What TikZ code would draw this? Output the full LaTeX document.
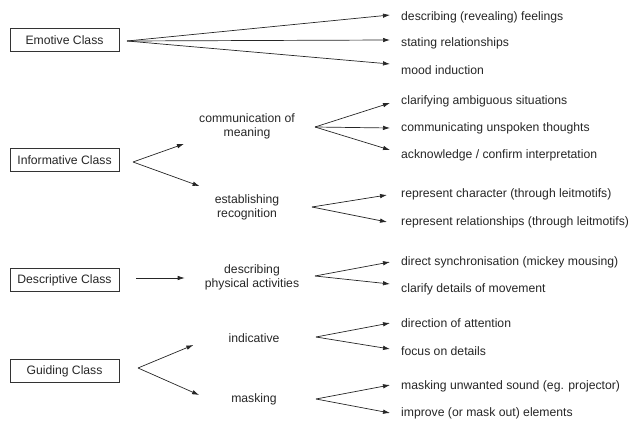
\documentclass[tikz,border=0pt]{standalone}
\usepackage{fontspec}
\setmainfont{Liberation Sans}
\usetikzlibrary{arrows.meta}
\begin{document}
\begin{tikzpicture}[x=1pt,y=-1pt,
  every node/.style={font=\fontsize{12.2}{14}\selectfont, text=black!85},
  classbox/.style={draw=black!80, line width=0.8pt, minimum width=109pt, minimum height=23pt, inner sep=0pt},
  midtext/.style={align=center, inner sep=0pt},
  righttext/.style={anchor=west, inner sep=0pt},
  arr/.style={draw=black!85, line width=0.7pt, -{Latex[length=7pt,width=4.5pt]}}]
\useasboundingbox (0,0) rectangle (631,427);
% class boxes
\node[classbox] (emo) at (64.5,40) {Emotive Class};
\node[classbox] (inf) at (64.5,160) {Informative Class};
\node[classbox] (des) at (64.5,280) {Descriptive Class};
\node[classbox] (gui) at (64.5,371) {Guiding Class};
% middle texts
\node[midtext] (com) at (247,126) {communication of\\meaning};
\node[midtext] (est) at (247,207) {establishing\\recognition};
\node[midtext] (phy) at (252,277) {describing\\physical activities};
\node[midtext] (ind) at (254,338) {indicative};
\node[midtext] (msk) at (254,399) {masking};
% right texts
\node[righttext] (r1) at (401,17) {describing (revealing) feelings};
\node[righttext] (r2) at (401,43) {stating relationships};
\node[righttext] (r3) at (401,70) {mood induction};
\node[righttext] (r4) at (401,101) {clarifying ambiguous situations};
\node[righttext] (r5) at (401,128) {communicating unspoken thoughts};
\node[righttext] (r6) at (401,155) {acknowledge / confirm interpretation};
\node[righttext] (r7) at (401,194) {represent character (through leitmotifs)};
\node[righttext] (r8) at (401,222) {represent relationships (through leitmotifs)};
\node[righttext] (r9) at (401,262) {direct synchronisation (mickey mousing)};
\node[righttext] (r10) at (401,289) {clarify details of movement};
\node[righttext] (r11) at (401,323) {direction of attention};
\node[righttext] (r12) at (401,351) {focus on details};
\node[righttext] (r13) at (401,386) {masking unwanted sound (eg. projector)};
\node[righttext] (r14) at (401,413) {improve (or mask out) elements};
% branch points
\coordinate (e0) at (127,41);
\coordinate (i0) at (133,162);
\coordinate (d0) at (136,278);
\coordinate (g0) at (138,368);
\coordinate (c0) at (315,127);
\coordinate (s0) at (312,207);
\coordinate (p0) at (315,276);
\coordinate (n0) at (316,337);
\coordinate (m0) at (316,399);
% emotive
\draw[arr] (e0) -- ([xshift=-11pt,yshift=2pt]r1.west);
\draw[arr] (e0) -- ([xshift=-11pt,yshift=3pt]r2.west);
\draw[arr] (e0) -- ([xshift=-11pt,yshift=6pt]r3.west);
% informative
\draw[arr] (i0) -- ([xshift=-15pt,yshift=-5pt]com.south west);
\draw[arr] (i0) -- ([xshift=-15pt,yshift=8pt]est.north west);
\draw[arr] (c0) -- ([xshift=-11pt,yshift=-2pt]r4.west);
\draw[arr] (c0) -- ([xshift=-11pt]r5.west);
\draw[arr] (c0) -- ([xshift=-11pt,yshift=5pt]r6.west);
\draw[arr] (s0) -- ([xshift=-14pt,yshift=-1pt]r7.west);
\draw[arr] (s0) -- ([xshift=-14pt]r8.west);
% descriptive
\draw[arr] (d0) -- ([xshift=-20pt,yshift=-1pt]phy.west);
\draw[arr] (p0) -- ([xshift=-11pt]r9.west);
\draw[arr] (p0) -- ([xshift=-11pt,yshift=5pt]r10.west);
% guiding
\draw[arr] (g0) -- ([xshift=-35pt,yshift=-7pt]ind.west);
\draw[arr] (g0) -- ([xshift=-32pt,yshift=4pt]msk.west);
\draw[arr] (n0) -- ([xshift=-11pt]r11.west);
\draw[arr] (n0) -- ([xshift=-11pt,yshift=2pt]r12.west);
\draw[arr] (m0) -- ([xshift=-11pt,yshift=1pt]r13.west);
\draw[arr] (m0) -- ([xshift=-11pt]r14.west);
\end{tikzpicture}
\end{document}
